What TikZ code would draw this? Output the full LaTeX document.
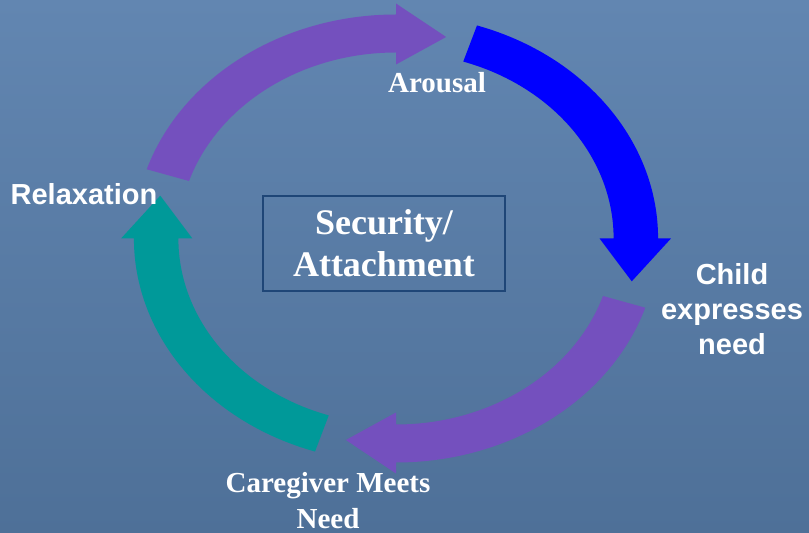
\documentclass[tikz,border=0pt]{standalone}
\usepackage{fontspec}
\setmainfont{Liberation Serif}
\newfontfamily\labelsans{Liberation Sans}

\definecolor{slidetop}{RGB}{98,134,177}
\definecolor{slidebottom}{RGB}{78,112,152}
\definecolor{ringpurple}{RGB}{116,80,190}
\definecolor{ringblue}{RGB}{0,0,255}
\definecolor{ringteal}{RGB}{0,153,153}
\definecolor{boxline}{RGB}{31,70,119}

\tikzset{
  seriflabel/.style={text=white, font=\bfseries\fontsize{29}{35}\selectfont, align=center, inner sep=0pt},
  sanslabel/.style={text=white, font=\labelsans\bfseries\fontsize{29}{35}\selectfont, align=center, inner sep=0pt},
}

\begin{document}
\begin{tikzpicture}[x=1pt, y=1pt]
  \useasboundingbox (0,0) rectangle (809,533);
  \shade[top color=slidetop, bottom color=slidebottom] (0,0) rectangle (809,533);

  % four curved arrows on one ellipse, centre (396,294.5)
  \begin{scope}[shift={(396,294.5)}, xscale=1.17]
    \fill[ringpurple] (162:224pt) arc[start angle=162, end angle=90, radius=224pt] -- (90:235pt) -- (78:206pt) -- (90:174pt) -- (90:186pt) arc[start angle=90, end angle=162, radius=186pt] -- cycle;
    \fill[ringblue] (72:224pt) arc[start angle=72, end angle=0, radius=224pt] -- (0:235pt) -- (-12:206pt) -- (0:174pt) -- (0:186pt) arc[start angle=0, end angle=72, radius=186pt] -- cycle;
    \fill[ringpurple] (-18:224pt) arc[start angle=-18, end angle=-90, radius=224pt] -- (-90:235pt) -- (-102:206pt) -- (-90:174pt) -- (-90:186pt) arc[start angle=-90, end angle=-18, radius=186pt] -- cycle;
    \fill[ringteal] (-108:224pt) arc[start angle=-108, end angle=-180, radius=224pt] -- (-180:235pt) -- (-192:206pt) -- (-180:174pt) -- (-180:186pt) arc[start angle=-180, end angle=-108, radius=186pt] -- cycle;
  \end{scope}

  % stage labels (base = baseline of the last line)
  \node[seriflabel, anchor=base] (arousal) at (437,440) {Arousal};
  \node[sanslabel, anchor=base] (child) at (732,178) {Child\\expresses\\need};
  \node[seriflabel, anchor=base] (caregiver) at (328,5) {Caregiver Meets\\Need};
  \node[sanslabel, anchor=base] (relaxation) at (84,328) {Relaxation};

  % centre box
  \node[draw=boxline, line width=1.5pt, minimum width=242pt, minimum height=95pt, text=white, align=center,
        font=\bfseries\fontsize{36}{42}\selectfont] (security) at (384,289.5) {Security/\\Attachment};
\end{tikzpicture}
\end{document}
